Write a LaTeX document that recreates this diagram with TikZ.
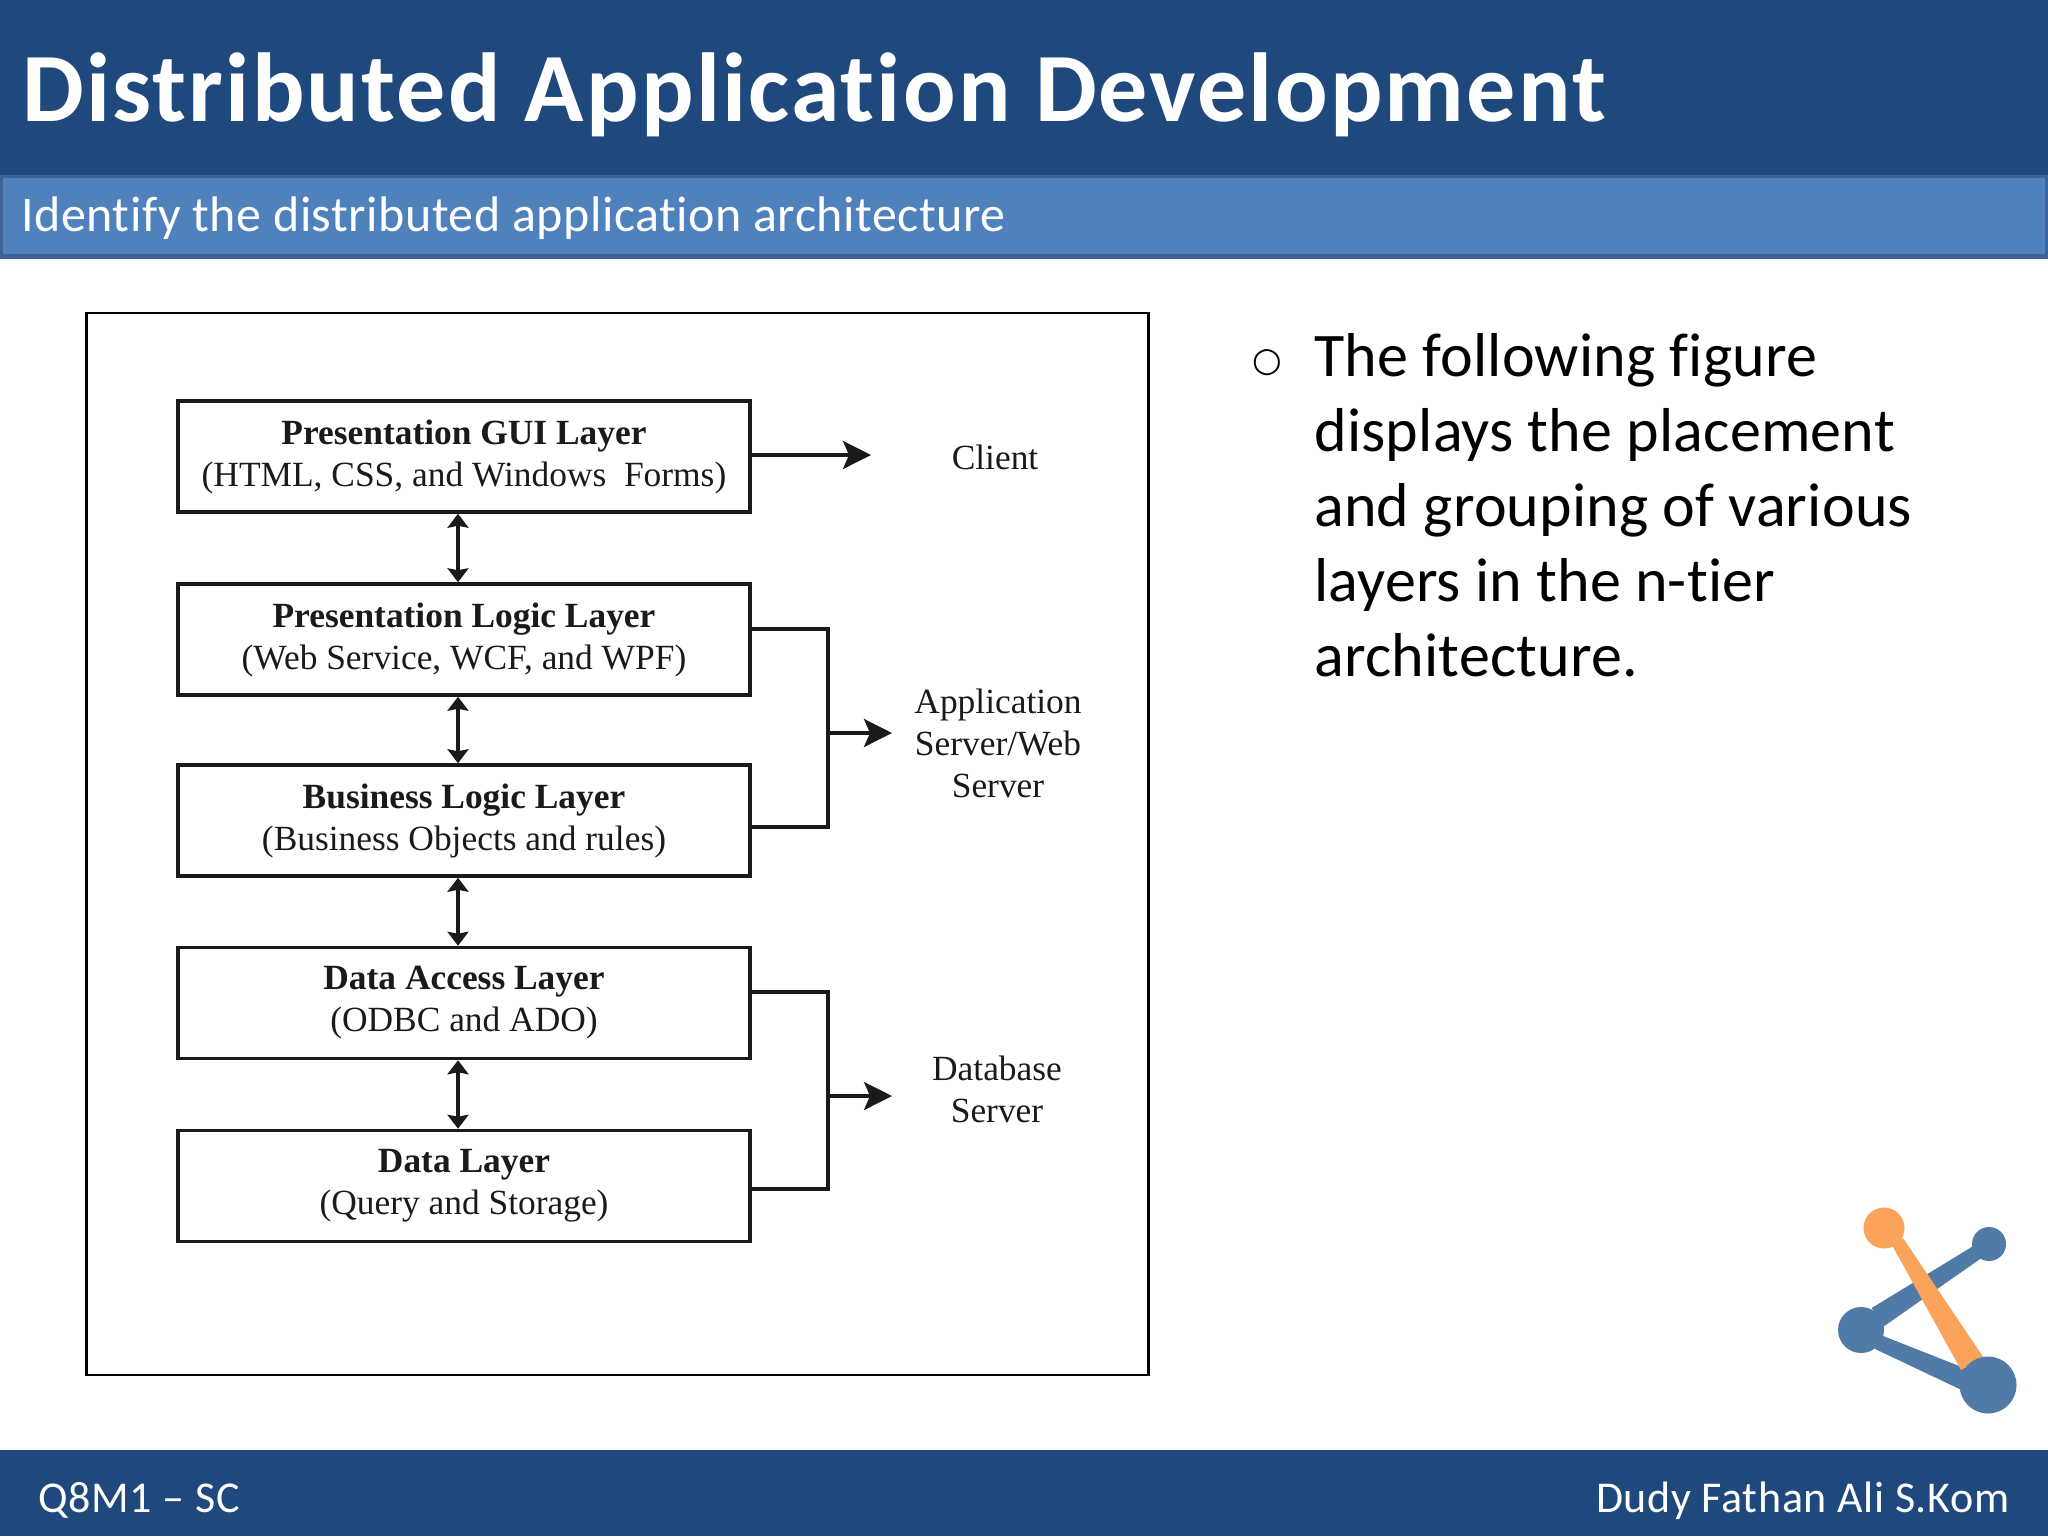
\documentclass[tikz,border=0pt]{standalone}
\usepackage{fontspec}
\setmainfont{Carlito}[Ligatures=NoCommon]
\newfontfamily\titlefont{Carlito}[Ligatures=NoCommon,LetterSpace=2.2]
\newfontfamily\subfont{Carlito}[Ligatures=NoCommon,LetterSpace=1.0]
\newfontfamily\footfont{Carlito}[Ligatures=NoCommon,LetterSpace=1.5]
\newfontfamily\bodyfont{Carlito}[Ligatures=NoCommon,LetterSpace=0.3]
\newfontfamily\figfont{Liberation Serif}
\newfontfamily\symfont{DejaVu Sans}
\usetikzlibrary{arrows.meta,calc}
\definecolor{headblue}{HTML}{1F497D}
\definecolor{subblue}{HTML}{4F81BD}
\definecolor{subedge}{HTML}{3E6497}
\definecolor{logoblue}{HTML}{4F7BA6}
\definecolor{logoorange}{HTML}{FBA35A}
\definecolor{figink}{HTML}{1A1A1A}
\tikzset{
  layerbox/.style={draw=figink,line width=1.75pt,fill=white,minimum width=286pt,minimum height=55.5pt,inner sep=0pt,align=center,font=\figfont\fontsize{17.7}{21}\selectfont,text=figink},
  tierlabel/.style={align=center,font=\figfont\fontsize{17.7}{21}\selectfont,text=figink,inner sep=0pt},
  wire/.style={draw=figink,line width=1.75pt},
  oneway/.style={wire,-{Stealth[length=14pt,width=14pt,inset=3pt]}},
  twoway/.style={wire,line width=2pt,{Stealth[length=7pt,width=10.5pt,inset=1pt]}-{Stealth[length=7pt,width=10.5pt,inset=1pt]}},
  whitetext/.style={text=white,inner sep=0pt,anchor=base west}
}
\begin{document}
\begin{tikzpicture}[x=0.5pt,y=-0.5pt]
\useasboundingbox (0,0) rectangle (2048,1536);
\fill[white] (0,0) rectangle (2048,1536);
\fill[headblue] (0,0) rectangle (2048,175);
\fill[subedge] (0,175) rectangle (2048,259);
\fill[subblue] (3,178) rectangle (2045,254);
\fill[headblue] (0,1450) rectangle (2048,1536);
\node[whitetext,font=\titlefont\bfseries\fontsize{49}{53}\selectfont] (title) at (22,121) {Distributed Application Development};
\node[whitetext,font=\subfont\fontsize{25}{29}\selectfont] (subtitle) at (21,231) {Identify the distributed application architecture};
\node[whitetext,font=\footfont\fontsize{22}{26}\selectfont] (footl) at (38,1512) {Q8M1 – SC};
\node[text=white,inner sep=0pt,anchor=base east,font=\footfont\fontsize{22}{26}\selectfont] (footr) at (2010,1512) {Dudy Fathan Ali S.Kom};

\node[draw=black,line width=1.25pt,minimum width=531pt,minimum height=531pt,inner sep=0pt] (frame) at (617.5,844) {};

\node[layerbox] (b1) at (464,456.5) {\textbf{Presentation GUI Layer}\\(HTML, CSS, and Windows\ \ Forms)};
\node[layerbox] (b2) at (464,639.5) {\textbf{Presentation Logic Layer}\\(Web Service, WCF, and WPF)};
\node[layerbox] (b3) at (464,820.5) {\textbf{Business Logic Layer}\\(Business Objects and rules)};
\node[layerbox] (b4) at (464,1003) {\textbf{Data Access Layer}\\(ODBC and ADO)};
\node[layerbox] (b5) at (464,1186) {\textbf{Data Layer}\\(Query and Storage)};

\node[tierlabel] (client) at (995,457) {Client};
\node[tierlabel] (appsrv) at (998,743) {Application\\Server/Web\\Server};
\node[tierlabel] (dbsrv) at (997,1089) {Database\\Server};

\draw[twoway] ($(b1.south)+(-6,0)$) -- ($(b2.north)+(-6,0)$);
\draw[twoway] ($(b2.south)+(-6,0)$) -- ($(b3.north)+(-6,0)$);
\draw[twoway] ($(b3.south)+(-6,0)$) -- ($(b4.north)+(-6,0)$);
\draw[twoway] ($(b4.south)+(-6,0)$) -- ($(b5.north)+(-6,0)$);

\coordinate (clienttip) at (871,455);
\coordinate (apptip) at (892,733);
\coordinate (dbtip) at (892,1096);
\coordinate (appbus) at (828,733);
\coordinate (dbbus) at (828,1096);

\draw[oneway] (b1.east |- clienttip) -- (clienttip);
\draw[wire,line join=miter] ($(b2.east)+(0,-10.5)$) -| (appbus) |- ($(b3.east)+(0,6.5)$);
\draw[oneway] (appbus) -- (apptip);
\draw[wire,line join=miter] ($(b4.east)+(0,-11)$) -| (dbbus) |- ($(b5.east)+(0,3)$);
\draw[oneway] (dbbus) -- (dbtip);

\node[inner sep=0pt,anchor=base west,font=\symfont\fontsize{17}{20}\selectfont] (bullet) at (1252,371) {○};
\node[inner sep=0pt,anchor=north west,align=left,font=\bodyfont\fontsize{31}{37.5}\selectfont] (body) at (1314,333) {The following figure\\displays the placement\\and grouping of various\\layers in the n-tier\\architecture.};

\fill[logoblue] (1973.3,1246) -- (1981,1258.3) -- (1883.3,1326.7) -- (1871.7,1308) -- cycle;
\fill[logoblue] (1878,1334) -- (1965,1368.3) -- (1961.7,1390) -- (1875,1349) -- cycle;
\fill[logoblue] (1861,1330) circle[radius=23];
\fill[logoblue] (1989,1244) circle[radius=17];
\fill[logoorange] (1891,1243.3) -- (1903,1238) -- (1983,1356.7) -- (1961,1370) -- cycle;
\fill[logoorange] (1884,1228) circle[radius=20.5];
\fill[logoblue] (1988,1385) circle[radius=28.5];
\end{tikzpicture}
\end{document}
